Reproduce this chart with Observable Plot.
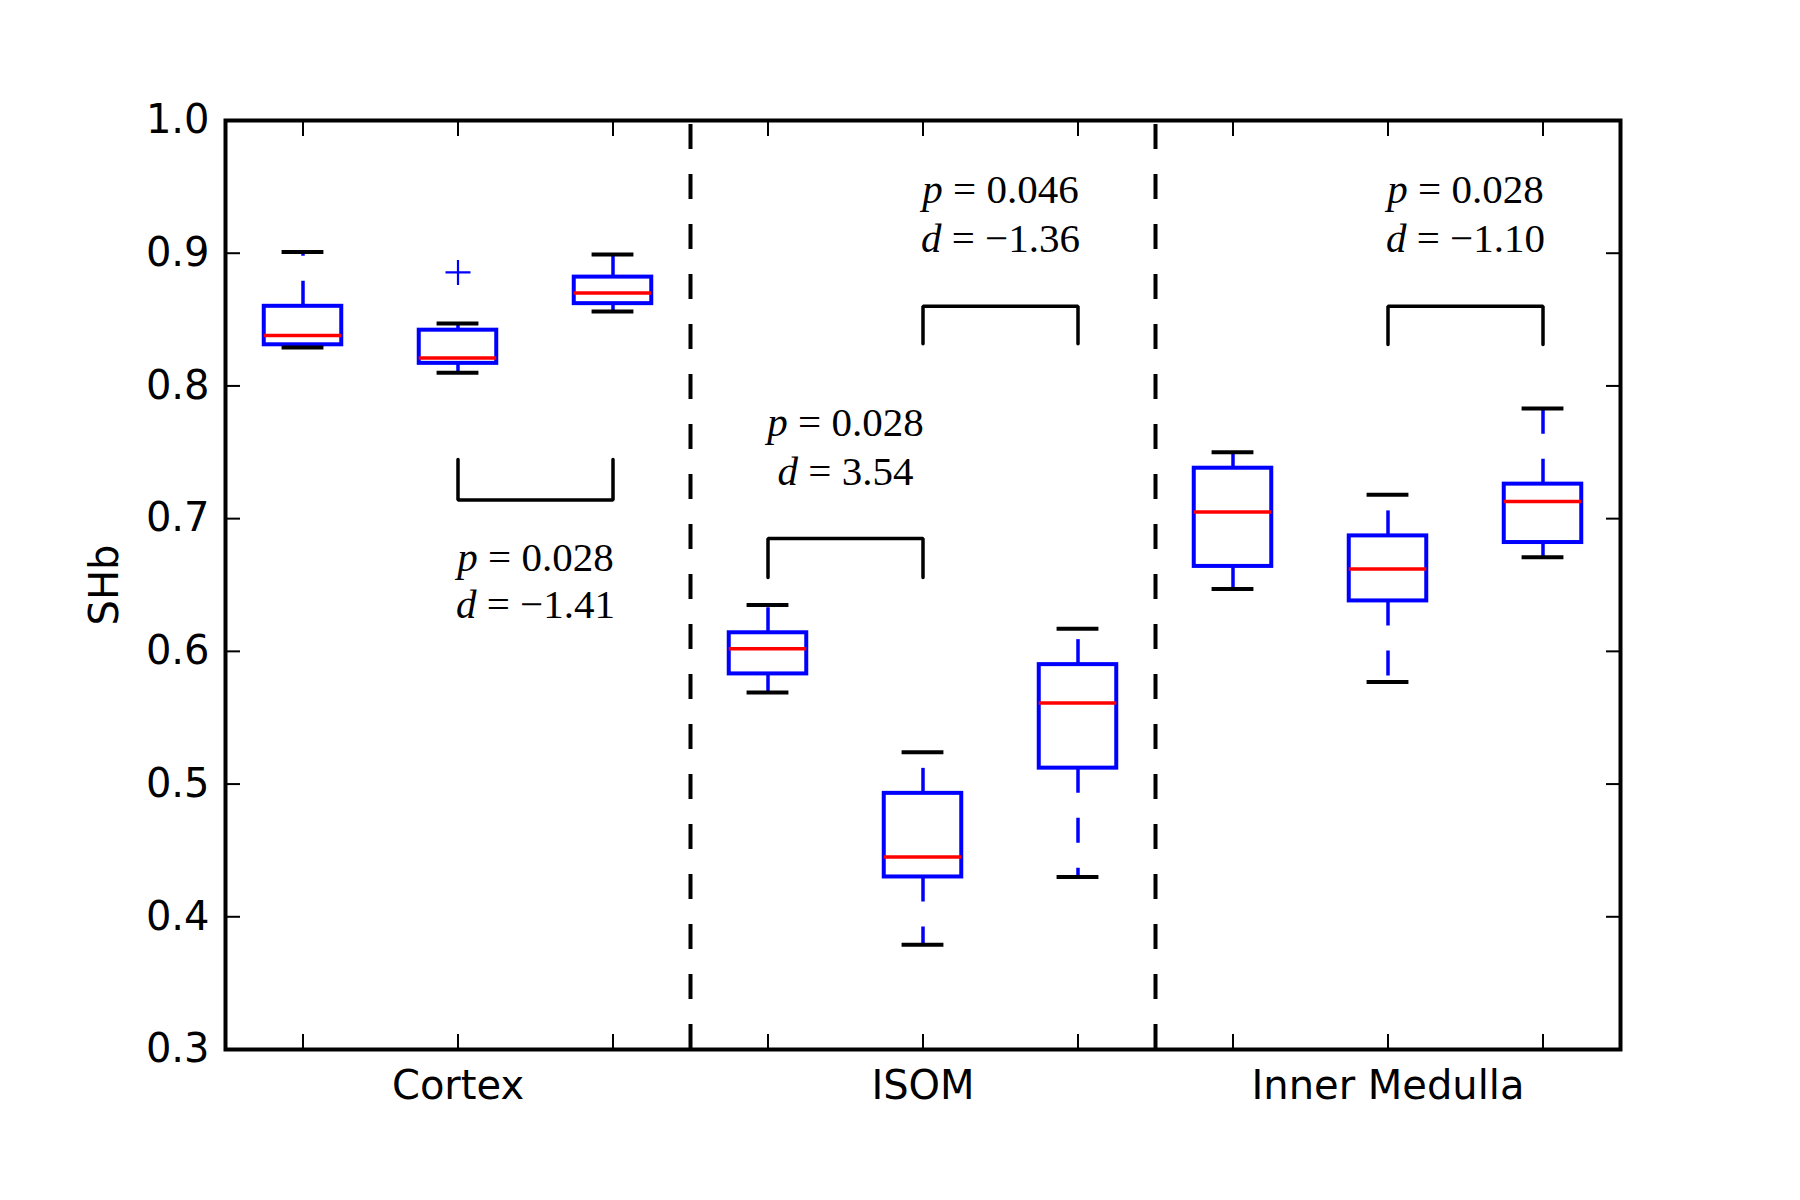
<!DOCTYPE html>
<html>
<head>
<meta charset="utf-8">
<script src="https://cdn.jsdelivr.net/npm/d3@7"></script>
<script src="https://cdn.jsdelivr.net/npm/@observablehq/plot@0.6"></script>
<style>
  html, body { margin: 0; padding: 0; background: white; }
  #chart { width: 1800px; height: 1200px; }
</style>
</head>
<body>
<div id="chart"></div>
<script>
// ---- data ----
const groups = ["Cortex", "ISOM", "Inner Medulla"];
const groupCenters = [2, 5, 8];
const positions = [1, 2, 3, 4, 5, 6, 7, 8, 9];
const whiskerLow  = [0.829, 0.810, 0.856, 0.569, 0.379, 0.430, 0.647, 0.577, 0.671];
const q1          = [0.831, 0.817, 0.862, 0.583, 0.430, 0.512, 0.664, 0.638, 0.682];
const median      = [0.838, 0.821, 0.870, 0.602, 0.445, 0.561, 0.705, 0.662, 0.713];
const q3          = [0.860, 0.842, 0.882, 0.614, 0.493, 0.590, 0.738, 0.687, 0.726];
const whiskerHigh = [0.901, 0.847, 0.899, 0.635, 0.524, 0.617, 0.750, 0.718, 0.783];
const outlierX = [2];
const outlierY = [0.8855];
const separators = [3.5, 6.5];
const yTicks = [0.3, 0.4, 0.5, 0.6, 0.7, 0.8, 0.9, 1.0];

// significance brackets
const bracketLeft  = [2, 4, 5, 8];
const bracketRight = [3, 5, 6, 9];
const bracketBar   = [0.714, 0.685, 0.860, 0.860];
const bracketEnd   = [0.7445, 0.6556, 0.8317, 0.8312];
const pLabels = ["p = 0.028", "p = 0.028", "p = 0.046", "p = 0.028"];
const dLabels = ["d = \u22121.41", "d = 3.54", "d = \u22121.36", "d = \u22121.10"];
const pLabelY = [0.6707, 0.7719, 0.9478, 0.9478];
const dLabelY = [0.6351, 0.7356, 0.9105, 0.9105];

// ---- derived tables ----
const boxHalf = 0.25, capHalf = 0.135;
const bracketRows = bracketLeft.flatMap((l, i) => [
  {k: i, x: l, y: bracketEnd[i]},
  {k: i, x: l, y: bracketBar[i]},
  {k: i, x: bracketRight[i], y: bracketBar[i]},
  {k: i, x: bracketRight[i], y: bracketEnd[i]}
]);
const labelX = bracketLeft.map((l, i) => (l + bracketRight[i]) / 2);

const plusSymbol = {
  draw(context, size) {
    const r = Math.sqrt(size / Math.PI);
    context.moveTo(-r, 0); context.lineTo(r, 0);
    context.moveTo(0, -r); context.lineTo(0, r);
  }
};

const BLUE = "#0000ff", RED = "#ff0000";
const serif = "'Liberation Serif', 'DejaVu Serif', serif";

const chart = Plot.plot({
  width: 1800,
  height: 1200,
  marginLeft: 225,
  marginRight: 180,
  marginTop: 120,
  marginBottom: 151,
  x: {domain: [0.5, 9.5]},
  y: {domain: [0.3, 1.0]},
  style: {fontFamily: "'DejaVu Sans', sans-serif", fontSize: "40px", background: "white", color: "black"},
  marks: [
    // separators
    Plot.ruleX(separators, {x: d => d, y1: 0.3, y2: 1.0, stroke: "black", strokeWidth: 4, strokeDasharray: "25,25"}),
    // boxes
    Plot.rect(positions, {x1: d => d - boxHalf, x2: d => d + boxHalf, y1: (d, i) => q1[i], y2: (d, i) => q3[i], fill: "none", stroke: BLUE, strokeWidth: 4}),
    // medians
    Plot.ruleY(positions, {x1: d => d - boxHalf, x2: d => d + boxHalf, y: (d, i) => median[i], stroke: RED, strokeWidth: 3.5}),
    // whiskers (dashed, starting at box edge)
    Plot.ruleX(positions, {x: d => d, y1: (d, i) => q3[i], y2: (d, i) => whiskerHigh[i], stroke: BLUE, strokeWidth: 3.5, strokeDasharray: "25,25"}),
    Plot.ruleX(positions, {x: d => d, y1: (d, i) => q1[i], y2: (d, i) => whiskerLow[i], stroke: BLUE, strokeWidth: 3.5, strokeDasharray: "25,25"}),
    // caps
    Plot.ruleY(positions, {x1: d => d - capHalf, x2: d => d + capHalf, y: (d, i) => whiskerHigh[i], stroke: "black", strokeWidth: 4}),
    Plot.ruleY(positions, {x1: d => d - capHalf, x2: d => d + capHalf, y: (d, i) => whiskerLow[i], stroke: "black", strokeWidth: 4}),
    // outliers
    Plot.dot(outlierY, {x: (d, i) => outlierX[i], y: d => d, symbol: plusSymbol, r: 12.5, stroke: BLUE, fill: "none", strokeWidth: 2.2}),
    // brackets
    Plot.line(bracketRows, {x: "x", y: "y", z: "k", stroke: "black", strokeWidth: 3.5, strokeLinecap: "round", strokeLinejoin: "miter"}),
    // stat labels
    Plot.text(pLabels, {x: (d, i) => labelX[i], y: (d, i) => pLabelY[i], text: d => d, fontFamily: serif, fontSize: 41, textAnchor: "middle", lineAnchor: "middle", fill: "black"}),
    Plot.text(dLabels, {x: (d, i) => labelX[i], y: (d, i) => dLabelY[i], text: d => d, fontFamily: serif, fontSize: 41, textAnchor: "middle", lineAnchor: "middle", fill: "black"}),
    // axes
    Plot.axisY({ticks: yTicks, tickSize: -15, tickPadding: 31, tickFormat: d3.format(".1f"), label: null, strokeWidth: 2}),
    Plot.axisY({anchor: "right", ticks: yTicks, tickSize: -15, tickFormat: () => "", label: null, strokeWidth: 2}),
    Plot.axisX({ticks: positions, tickSize: -15, tickFormat: () => "", label: null, strokeWidth: 2}),
    Plot.axisX({anchor: "top", ticks: positions, tickSize: -15, tickFormat: () => "", label: null, strokeWidth: 2}),
    Plot.axisX({ticks: groupCenters, tickSize: 0, tickPadding: 21, tickFormat: d => groups[groupCenters.indexOf(d)], label: null}),
    Plot.text(["SHb"], {frameAnchor: "left", dx: -120, rotate: -90, text: d => d, fontSize: 40, textAnchor: "middle", lineAnchor: "middle"}),
    Plot.frame({stroke: "black", strokeWidth: 4})
  ]
});

// italicise the variable letters of the stat labels (text stays real text)
const statSet = new Set([...pLabels, ...dLabels]);
chart.querySelectorAll("text").forEach(t => {
  const s = t.textContent;
  if (!statSet.has(s)) return;
  while (t.firstChild) t.removeChild(t.firstChild);
  const it = document.createElementNS("http://www.w3.org/2000/svg", "tspan");
  it.setAttribute("font-style", "italic");
  it.textContent = s[0];
  t.appendChild(it);
  t.appendChild(document.createTextNode(s.slice(1)));
});

document.getElementById("chart").appendChild(chart);
</script>
</body>
</html>
